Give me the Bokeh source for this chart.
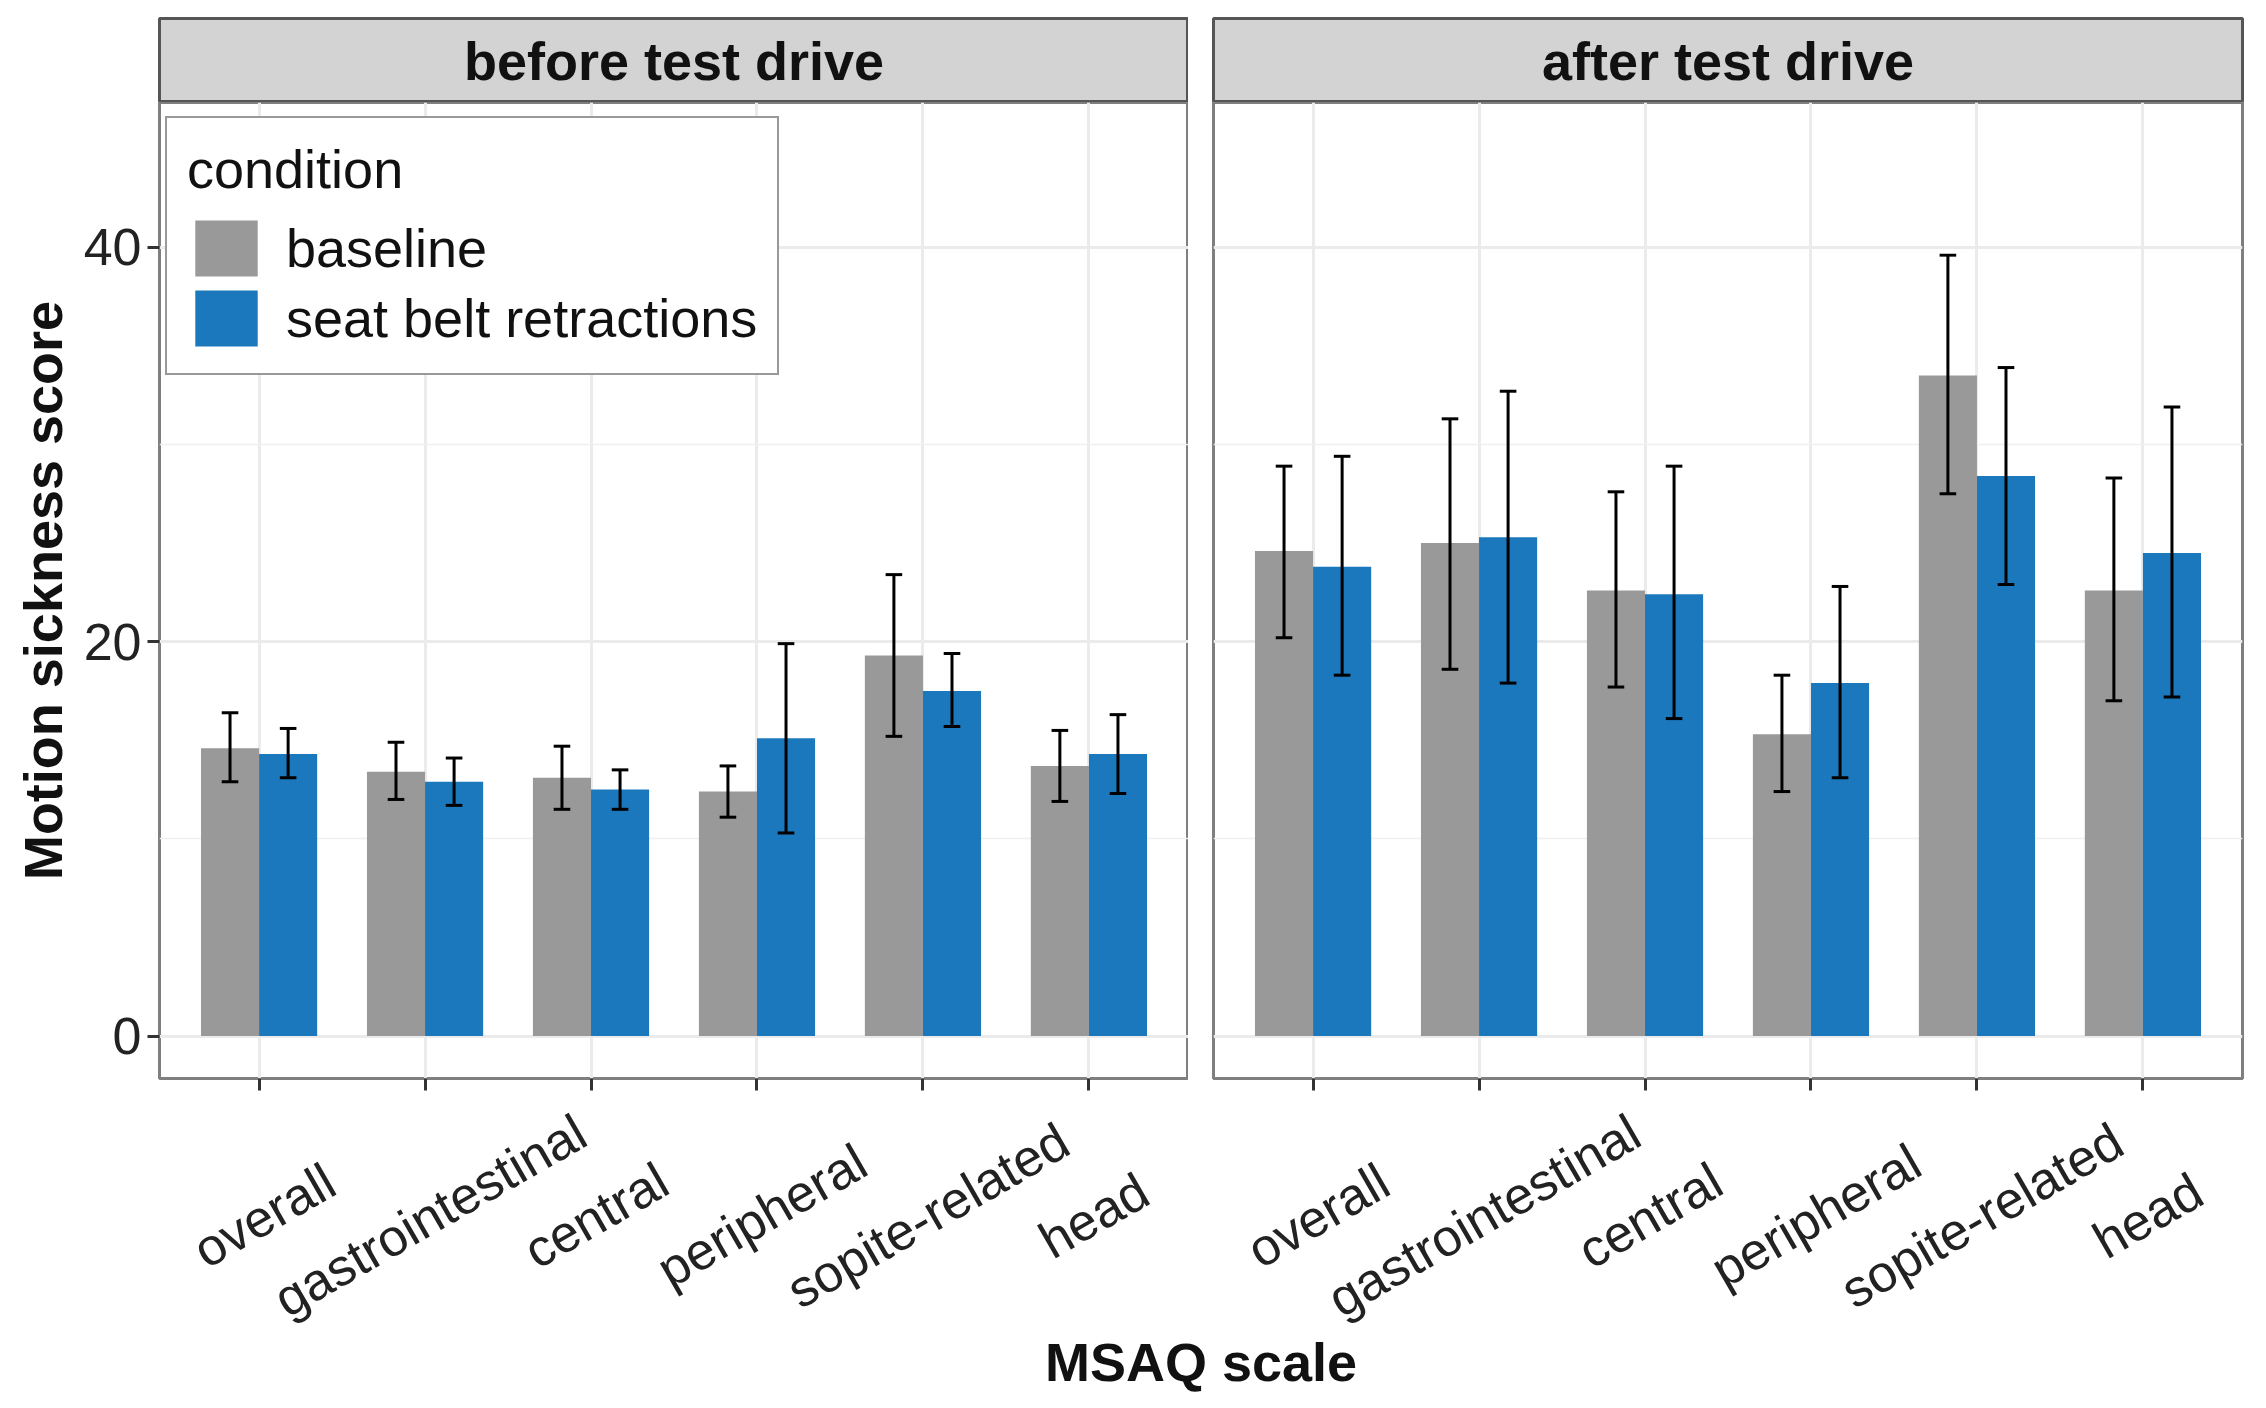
import numpy as np
from bokeh.plotting import figure
from bokeh.models import (Range1d, FixedTicker, ColumnDataSource, Label,
                          Legend, LegendItem)
from bokeh.core.properties import value
from bokeh.layouts import row, column
from bokeh.embed import file_html
from bokeh.resources import INLINE

# ---------------- data ----------------
scales = ["overall", "gastrointestinal", "central", "peripheral", "sopite-related", "head"]
conditions = ["baseline", "seat belt retractions"]
panels = ["before test drive", "after test drive"]

before_baseline = [14.6, 13.4, 13.1, 12.4, 19.3, 13.7]
before_baseline_lo = [12.9, 12.0, 11.5, 11.1, 15.2, 11.9]
before_baseline_hi = [16.4, 14.9, 14.7, 13.7, 23.4, 15.5]
before_seatbelt = [14.3, 12.9, 12.5, 15.1, 17.5, 14.3]
before_seatbelt_lo = [13.1, 11.7, 11.5, 10.3, 15.7, 12.3]
before_seatbelt_hi = [15.6, 14.1, 13.5, 19.9, 19.4, 16.3]

after_baseline = [24.6, 25.0, 22.6, 15.3, 33.5, 22.6]
after_baseline_lo = [20.2, 18.6, 17.7, 12.4, 27.5, 17.0]
after_baseline_hi = [28.9, 31.3, 27.6, 18.3, 39.6, 28.3]
after_seatbelt = [23.8, 25.3, 22.4, 17.9, 28.4, 24.5]
after_seatbelt_lo = [18.3, 17.9, 16.1, 13.1, 22.9, 17.2]
after_seatbelt_hi = [29.4, 32.7, 28.9, 22.8, 33.9, 31.9]

y_ticks = [0, 20, 40]
y_minor_ticks = [10, 30]

# ---------------- style ----------------
FONT = "Liberation Sans"
GRAY = "#999999"
BLUE = "#1B78BD"
FRAME_W = 1029
FRAME_H = 976
STRIP_H = 84
TOP = 18
TICK_BORDER = 22
LABEL_H = 228
LEFT1 = 159
GAP = 25
RIGHT2 = 9
BAR_W = 0.35
CAP = 0.05
Y0, Y1 = -2.15, 47.34
ANGLE = np.deg2rad(30)


def make_strip(text, left, right):
    s = figure(frame_width=FRAME_W, frame_height=STRIP_H, x_range=Range1d(0, 1),
               y_range=Range1d(0, 1), min_border_left=left, min_border_right=right,
               min_border_top=TOP, min_border_bottom=0, x_axis_location=None,
               y_axis_location=None, output_backend="svg", toolbar_location=None,
               title=None)
    s.background_fill_color = "#D3D3D3"
    s.border_fill_color = "white"
    s.outline_line_color = "#555555"
    s.outline_line_width = 3
    s.grid.visible = False
    s.add_layout(Label(x=0.5, y=0.5, text=text, text_align="center",
                       text_baseline="middle", text_font_size="54px",
                       text_font_style="bold", text_font=FONT, text_color="#111111"))
    return s


def make_panel(base, base_lo, base_hi, sb, sb_lo, sb_hi, show_y, left, right):
    xr = Range1d(0.4, len(scales) + 0.6)
    p = figure(frame_width=FRAME_W, frame_height=FRAME_H,
               x_range=xr, y_range=Range1d(Y0, Y1),
               min_border_left=left, min_border_right=right, min_border_top=0,
               min_border_bottom=TICK_BORDER, output_backend="svg", toolbar_location=None,
               y_axis_location="left" if show_y else None, title=None)
    p.background_fill_color = "white"
    p.border_fill_color = "white"
    p.outline_line_color = "#7F7F7F"
    p.outline_line_width = 3

    xs = np.arange(1, len(scales) + 1)
    xb = xs - BAR_W / 2
    xsb = xs + BAR_W / 2

    # grid
    p.xgrid.ticker = FixedTicker(ticks=list(xs))
    p.xgrid.grid_line_color = "#EBEBEB"
    p.xgrid.grid_line_width = 3
    p.ygrid.ticker = FixedTicker(ticks=y_ticks, minor_ticks=y_minor_ticks)
    p.ygrid.grid_line_color = "#EBEBEB"
    p.ygrid.grid_line_width = 3
    p.ygrid.minor_grid_line_color = "#F0F0F0"
    p.ygrid.minor_grid_line_width = 1.5

    # bars
    r1 = p.vbar(x=xb, top=base, bottom=0, width=BAR_W, fill_color=GRAY, line_color=None)
    r2 = p.vbar(x=xsb, top=sb, bottom=0, width=BAR_W, fill_color=BLUE, line_color=None)

    # error bars
    for xx, lo, hi in ((xb, base_lo, base_hi), (xsb, sb_lo, sb_hi)):
        p.segment(x0=xx, y0=lo, x1=xx, y1=hi, line_color="black", line_width=3)
        p.segment(x0=xx - CAP, y0=hi, x1=xx + CAP, y1=hi, line_color="black", line_width=3)
        p.segment(x0=xx - CAP, y0=lo, x1=xx + CAP, y1=lo, line_color="black", line_width=3)

    # x axis: tick marks only (labels drawn rotated & centred in a strip below)
    xa = p.xaxis[0]
    xa.ticker = FixedTicker(ticks=list(xs))
    xa.major_label_overrides = {int(x): "" for x in xs}
    xa.major_label_standoff = 0
    xa.axis_line_color = None
    xa.major_tick_line_color = "#333333"
    xa.major_tick_line_width = 3
    xa.major_tick_out = 12
    xa.major_tick_in = 0
    xa.minor_tick_line_color = None

    if show_y:
        ya = p.yaxis[0]
        ya.ticker = FixedTicker(ticks=y_ticks, minor_ticks=y_minor_ticks)
        ya.axis_line_color = None
        ya.major_tick_line_color = "#333333"
        ya.major_tick_line_width = 3
        ya.major_tick_out = 12
        ya.major_tick_in = 0
        ya.minor_tick_line_color = None
        ya.major_label_standoff = 6
        ya.major_label_text_font_size = "52px"
        ya.major_label_text_font = FONT
        ya.major_label_text_color = "#222222"
        ya.axis_label = "Motion sickness score"
        ya.axis_label_text_font_size = "54px"
        ya.axis_label_text_font = FONT
        ya.axis_label_text_font_style = "bold"
        ya.axis_label_text_color = "#111111"
        ya.axis_label_standoff = 8

    # rotated category labels
    lab = figure(frame_width=FRAME_W, frame_height=LABEL_H, x_range=xr,
                 y_range=Range1d(0, LABEL_H), min_border_left=left, min_border_right=right,
                 min_border_top=0, min_border_bottom=0, x_axis_location=None,
                 y_axis_location=None, output_backend="svg", toolbar_location=None,
                 title=None)
    lab.outline_line_color = None
    lab.grid.visible = False
    src = ColumnDataSource(dict(x=xs + 0.03, y=[LABEL_H - 115] * len(scales), text=scales))
    lab.text(x="x", y="y", text="text", source=src, angle=ANGLE,
             text_align="center", text_baseline="middle",
             text_font_size="52px", text_font=value(FONT), text_color="#222222")
    return p, lab, r1, r2


s1 = make_strip(panels[0], LEFT1, 0)
p1, l1, r1, r2 = make_panel(before_baseline, before_baseline_lo, before_baseline_hi,
                            before_seatbelt, before_seatbelt_lo, before_seatbelt_hi,
                            True, LEFT1, 0)
s2 = make_strip(panels[1], GAP, RIGHT2)
p2, l2, _, _ = make_panel(after_baseline, after_baseline_lo, after_baseline_hi,
                          after_seatbelt, after_seatbelt_lo, after_seatbelt_hi,
                          False, GAP, RIGHT2)

legend = Legend(items=[LegendItem(label=conditions[0], renderers=[r1]),
                       LegendItem(label=conditions[1], renderers=[r2])],
                location=(6, 703), title="condition",
                title_text_font_size="54px", title_text_font=FONT,
                title_text_font_style="normal", title_text_color="#111111",
                title_standoff=13,
                label_text_font_size="54px", label_text_font=FONT,
                label_text_color="#111111", label_standoff=21,
                glyph_width=78, glyph_height=70, label_height=60, spacing=0,
                padding=20, margin=0,
                border_line_color="#333333", border_line_width=2,
                background_fill_color="white", background_fill_alpha=1.0)
p1.add_layout(legend)

total_w = LEFT1 + FRAME_W + GAP + FRAME_W + RIGHT2
xt = figure(width=total_w, height=70, x_range=Range1d(0, total_w), y_range=Range1d(0, 70),
            min_border_left=0, min_border_right=0, min_border_top=0, min_border_bottom=0,
            x_axis_location=None, y_axis_location=None, output_backend="svg",
            toolbar_location=None, title=None)
xt.outline_line_color = None
xt.grid.visible = False
center_x = (LEFT1 + (LEFT1 + FRAME_W + GAP + FRAME_W)) / 2
xt.add_layout(Label(x=center_x, y=37, text="MSAQ scale", text_align="center",
                    text_baseline="middle", text_font_size="54px", text_font=FONT,
                    text_font_style="bold", text_color="#111111"))

layout = column(row(column(s1, p1, l1), column(s2, p2, l2)), xt)

open("out.html", "w").write(file_html(layout, INLINE))
